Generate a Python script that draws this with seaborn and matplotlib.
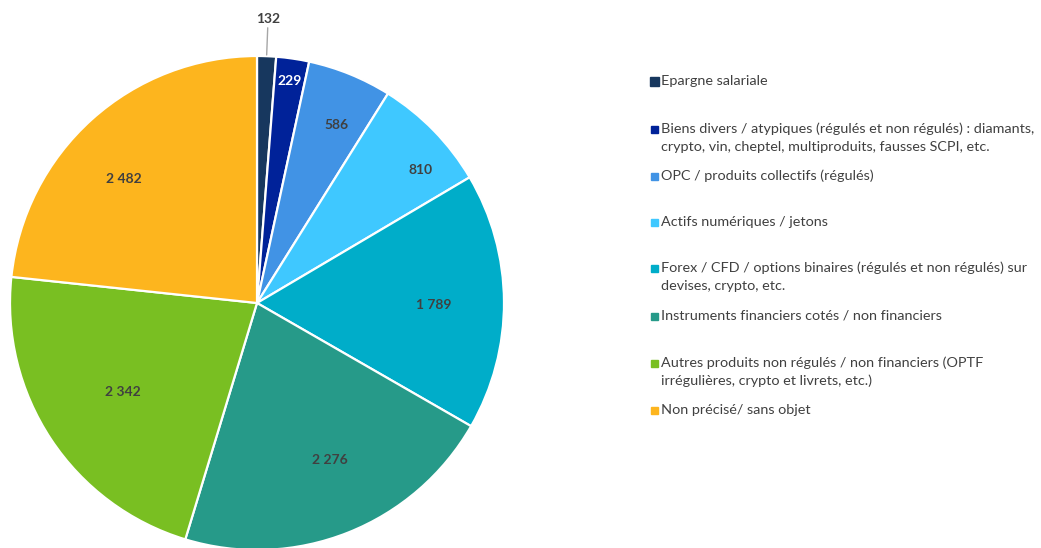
import numpy as np
import matplotlib
matplotlib.use("Agg")
import matplotlib.pyplot as plt
import seaborn as sns
from matplotlib.patches import Rectangle

sns.set_style("white")
plt.rcParams["font.family"] = ["Lato", "DejaVu Sans"]

categories = [
    "Epargne salariale",
    "Biens divers / atypiques (régulés et non régulés) : diamants,\ncrypto, vin, cheptel, multiproduits, fausses SCPI, etc.",
    "OPC / produits collectifs (régulés)",
    "Actifs numériques / jetons",
    "Forex / CFD / options binaires (régulés et non régulés) sur\ndevises, crypto, etc.",
    "Instruments financiers cotés / non financiers",
    "Autres produits non régulés / non financiers (OPTF\nirrégulières, crypto et livrets, etc.)",
    "Non précisé/ sans objet",
]
values = [132, 229, 586, 810, 1789, 2276, 2342, 2482]
colors = ["#17375E", "#002299", "#4193E5", "#3FC8FF", "#00ADC9",
          "#269A89", "#79BF22", "#FDB51E"]
label_colors = ["#404040", "white", "#404040", "#404040", "#404040",
                "#404040", "#404040", "#404040"]
# data label placement: fraction of radius, clockwise shift in degrees
label_radius = [1.15, 0.91, 0.79, 0.855, 0.715, 0.70, 0.65, 0.737]
label_shift = [0, 0, 1.8, 5.1, 1.0, -3.2, 0, -5.2]

W, H = 1041, 548
fig = plt.figure(figsize=(W / 100, H / 100), dpi=100)

cx, cy, r = 257, 303, 247
ax = fig.add_axes([(cx - r) / W, (H - cy - r) / H, 2 * r / W, 2 * r / H])
wedges, _ = ax.pie(values, colors=colors, startangle=90, counterclock=False,
                   radius=1, wedgeprops=dict(edgecolor="white", linewidth=1.6))
ax.set_xlim(-1, 1)
ax.set_ylim(-1, 1)
ax.set_aspect("equal")
ax.axis("off")


def fmt(v):
    return f"{v:,}".replace(",", " ")


for w, v, lc, rd, sh in zip(wedges, values, label_colors, label_radius, label_shift):
    th = np.deg2rad((w.theta1 + w.theta2) / 2 - sh)
    x, y = rd * np.cos(th), rd * np.sin(th)
    ax.text(x, y, fmt(v), ha="center", va="center", color=lc,
            fontsize=10, fontweight="bold", clip_on=False)
    if rd > 1:
        ax.plot([1.005 * np.cos(th), 1.115 * np.cos(th)],
                [1.005 * np.sin(th), 1.115 * np.sin(th)],
                color="#A6A6A6", lw=1, clip_on=False)

# legend
leg_y = [81, 129, 176, 222, 268, 316, 363, 410]
sq = [9, 7, 7, 7, 7, 7, 7, 7]
for lab, col, y, s in zip(categories, colors, leg_y, sq):
    fig.patches.append(Rectangle(((654 - s / 2) / W, (H - y - s / 2) / H),
                                 s / W, s / H, color=col,
                                 transform=fig.transFigure))
    for i, line in enumerate(lab.split("\n")):
        fig.text(661 / W, (H - y - 18 * i) / H, line, ha="left", va="center",
                 fontsize=10.4, color="#404040")

fig.savefig("out.png", dpi=100)
